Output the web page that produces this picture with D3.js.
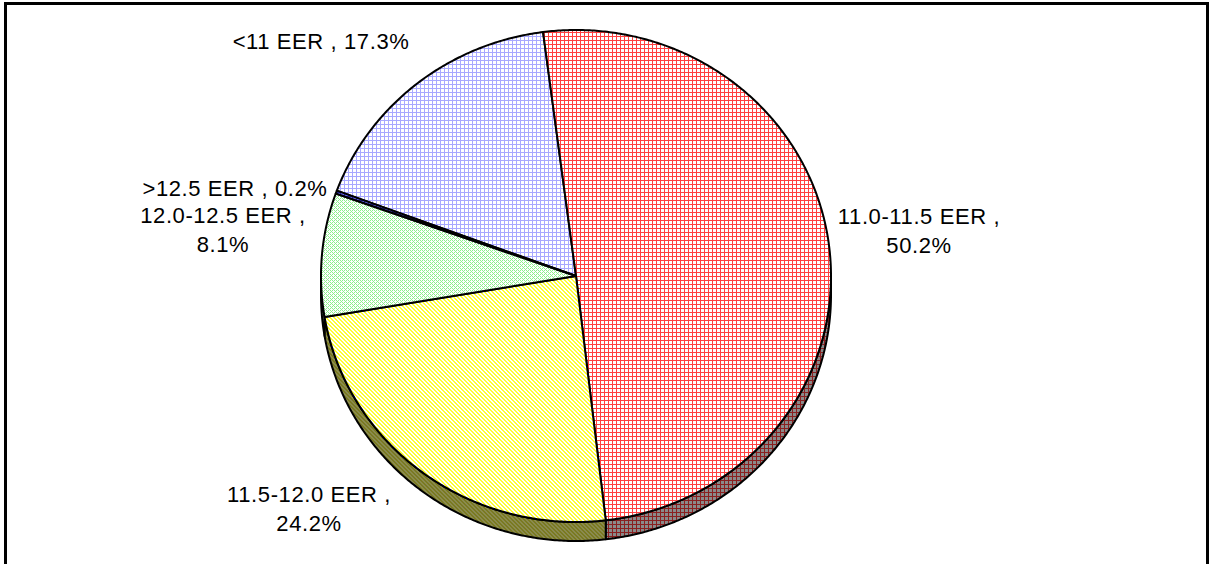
<!DOCTYPE html>
<html>
<head>
<meta charset="utf-8">
<script src="https://cdn.jsdelivr.net/npm/d3@7"></script>
<style>
  html, body { margin: 0; padding: 0; background: #fff; }
  svg { display: block; }
  text { font-family: Arial, "Liberation Sans", sans-serif; fill: #000; }
</style>
</head>
<body>
<svg id="chart" width="1209" height="564"></svg>
<script>
// Share of units by efficiency rating (EER), percent
const categories = ["<11 EER", "11.0-11.5 EER", "11.5-12.0 EER", "12.0-12.5 EER", ">12.5 EER"];
const shares = [17.3, 50.2, 24.2, 8.1, 0.2];
const shareLabels = ["17.3%", "50.2%", "24.2%", "8.1%", "0.2%"];

// Fill patterns per slice (top face) and the darker tone for the rim
const topPatterns = ["pBlue", "pRed", "pYellow", "pGreen", "pNavy"];
const sidePatterns = ["sBlue", "sRed", "sYellow", "sGreen", "sNavy"];

// Label layout: centre x and first baseline, one or two lines
const labelLayout = [
  { x: 321, y: 49, lines: 1 },
  { x: 919, y: 224, lines: 2 },
  { x: 309, y: 502, lines: 2 },
  { x: 223, y: 223, lines: 2 },
  { x: 235, y: 196, lines: 1 }
];

const svg = d3.select("#chart");

// Frame
svg.append("rect")
  .attr("x", 5.5).attr("y", 3.5)
  .attr("width", 1202).attr("height", 700)
  .attr("fill", "#fff").attr("stroke", "#000").attr("stroke-width", 3);

// Patterns
const defs = svg.append("defs");
function gridPattern(id, bg, line) {
  const p = defs.append("pattern").attr("id", id)
    .attr("patternUnits", "userSpaceOnUse").attr("width", 4).attr("height", 4);
  p.append("rect").attr("width", 4).attr("height", 4).attr("fill", bg);
  p.append("rect").attr("x", 0).attr("y", 0).attr("width", 1).attr("height", 4).attr("fill", line);
  p.append("rect").attr("x", 0).attr("y", 0).attr("width", 4).attr("height", 1).attr("fill", line);
}
function checkPattern(id, bg, ink) {
  const p = defs.append("pattern").attr("id", id)
    .attr("patternUnits", "userSpaceOnUse").attr("width", 4).attr("height", 4);
  p.append("rect").attr("width", 4).attr("height", 4).attr("fill", bg);
  [[0,0],[2,0],[1,1],[0,2],[2,2],[3,3]].forEach(([x, y]) =>
    p.append("rect").attr("x", x).attr("y", y).attr("width", 1).attr("height", 1).attr("fill", ink));
}
function diagPattern(id, bg, ink) {
  const p = defs.append("pattern").attr("id", id)
    .attr("patternUnits", "userSpaceOnUse").attr("width", 4).attr("height", 4);
  p.append("rect").attr("width", 4).attr("height", 4).attr("fill", bg);
  [[0,0],[1,0],[1,1],[2,1],[2,2],[3,2],[3,3],[0,3]].forEach(([x, y]) =>
    p.append("rect").attr("x", x).attr("y", y).attr("width", 1).attr("height", 1).attr("fill", ink));
}
gridPattern("pRed", "#ffffff", "#ff4040");
gridPattern("pBlue", "#ffffff", "#a8a8ff");
checkPattern("pGreen", "#ffffff", "#8ef08e");
diagPattern("pYellow", "#ffffff", "#ffff33");
gridPattern("pNavy", "#6a6aff", "#2020a0");
gridPattern("sRed", "#8a8a8a", "#8a2020");
gridPattern("sBlue", "#8a8a9a", "#50508a");
checkPattern("sGreen", "#8a9a8a", "#4a7a4a");
diagPattern("sYellow", "#8a8a50", "#7a7a20");
gridPattern("sNavy", "#404080", "#202050");

// Pie geometry: slightly flattened ellipse with a downward rim
const cx = 576, cy = 276, rx = 255, ry = 246, depth = 19;
const startAngle = -69.7 * Math.PI / 180;

const pie = d3.pie().sort(null).value(d => d)
  .startAngle(startAngle).endAngle(startAngle + 2 * Math.PI);
const arcs = pie(shares);

const px = a => cx + rx * Math.sin(a);
const py = a => cy - ry * Math.cos(a);

function arcPoints(a0, a1, dy) {
  const n = Math.max(2, Math.ceil(Math.abs(a1 - a0) / (Math.PI / 360)));
  const pts = [];
  for (let i = 0; i <= n; i++) {
    const a = a0 + (a1 - a0) * i / n;
    pts.push([px(a), py(a) + dy]);
  }
  return pts;
}

const line = d3.line();

// Rim: the front half of the ellipse (from 3 o'clock round to 9 o'clock)
const frontLo = Math.PI / 2, frontHi = 3 * Math.PI / 2;
const g = svg.append("g");
arcs.forEach((d, i) => {
  const s0 = Math.max(d.startAngle, frontLo);
  const s1 = Math.min(d.endAngle, frontHi);
  if (s1 <= s0) return;
  const pts = arcPoints(s0, s1, 0).concat(arcPoints(s1, s0, depth));
  g.append("path")
    .attr("d", line(pts) + "Z")
    .attr("fill", `url(#${sidePatterns[i]})`)
    .attr("stroke", "#000").attr("stroke-width", 2)
    .attr("stroke-linejoin", "round");
});

// Top faces
arcs.forEach((d, i) => {
  const pts = [[cx, cy]].concat(arcPoints(d.startAngle, d.endAngle, 0));
  g.append("path")
    .attr("d", line(pts) + "Z")
    .attr("fill", `url(#${topPatterns[i]})`)
    .attr("stroke", "#000").attr("stroke-width", 2)
    .attr("stroke-linejoin", "round");
});

// Data labels
const fs = 22, lh = 29, ls = 0.6;
arcs.forEach((d, i) => {
  const L = labelLayout[i];
  const t = svg.append("text")
    .attr("text-anchor", "middle")
    .attr("font-size", fs)
    .attr("letter-spacing", ls);
  if (L.lines === 1) {
    t.append("tspan").attr("x", L.x).attr("y", L.y)
      .text(`${categories[i]} , ${shareLabels[i]}`);
  } else {
    t.append("tspan").attr("x", L.x).attr("y", L.y).text(`${categories[i]} ,`);
    t.append("tspan").attr("x", L.x).attr("y", L.y + lh).text(shareLabels[i]);
  }
});
</script>
</body>
</html>
